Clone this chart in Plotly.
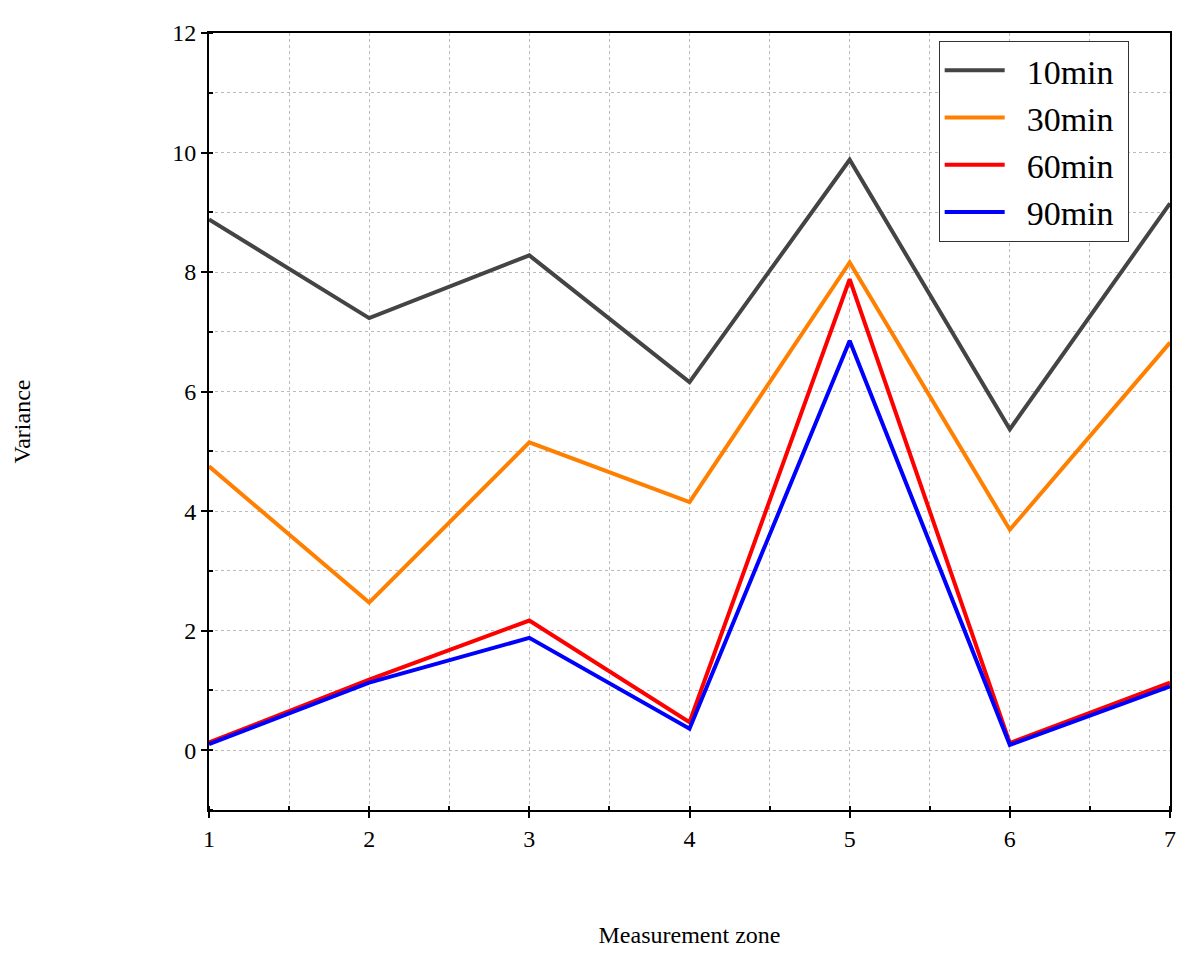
import plotly.graph_objects as go

zones = [1, 2, 3, 4, 5, 6, 7]
var_10min = [8.88, 7.23, 8.28, 6.16, 9.88, 5.37, 9.15]
var_30min = [4.75, 2.47, 5.15, 4.15, 8.16, 3.69, 6.82]
var_60min = [0.13, 1.18, 2.17, 0.47, 7.88, 0.12, 1.13]
var_90min = [0.10, 1.13, 1.88, 0.36, 6.85, 0.09, 1.07]

series = [("10min", var_10min, "#444444"), ("30min", var_30min, "#ff8000"),
          ("60min", var_60min, "#ff0000"), ("90min", var_90min, "#0000ff")]

fig = go.Figure()
for name, vals, colour in series:
    fig.add_trace(go.Scatter(x=zones, y=vals, name="  " + name + " ", mode="lines",
                             line=dict(color=colour, width=4)))

axis_common = dict(showline=True, linecolor="black", linewidth=2, mirror=True,
                   ticks="outside", tickcolor="black", ticklen=6, tickwidth=2,
                   griddash="dot", gridcolor="#bbbbbb", gridwidth=1, zeroline=False,
                   tickfont=dict(size=24, color="black", family="Liberation Serif"))
fig.update_xaxes(range=[1, 7], dtick=1,
                 minor=dict(dtick=0.5, ticks="inside", ticklen=4, tickcolor="black",
                            showgrid=True, griddash="dot", gridcolor="#bbbbbb"),
                 title=dict(text="Measurement zone", font=dict(size=24, color="black"), standoff=75),
                 **axis_common)
fig.update_yaxes(range=[-1, 12], tickvals=[0, 2, 4, 6, 8, 10, 12],
                 minor=dict(dtick=1, ticks="inside", ticklen=4, tickcolor="black",
                            showgrid=True, griddash="dot", gridcolor="#bbbbbb"),
                 title=dict(text="Variance", font=dict(size=24, color="black"), standoff=135),
                 **axis_common)
fig.update_layout(width=1195, height=956, plot_bgcolor="white", paper_bgcolor="white",
                  font=dict(family="Liberation Serif", color="black"),
                  margin=dict(l=190, r=33, t=17, b=154),
                  legend=dict(x=0.957, y=0.99, xanchor="right", yanchor="top",
                              bordercolor="#333333", borderwidth=1, bgcolor="white",
                              font=dict(size=34, family="Liberation Serif"), itemwidth=60))
fig.write_html("out.html")
